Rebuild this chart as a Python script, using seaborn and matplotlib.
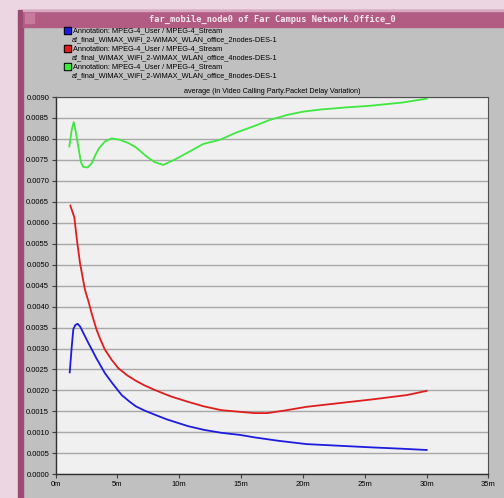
import matplotlib
matplotlib.use("Agg")
import matplotlib.pyplot as plt
from matplotlib.patches import Rectangle
import numpy as np
import seaborn as sns

# time (minutes) and packet delay variation (seconds)
t_2nodes = [1.15, 1.3, 1.44, 1.6, 1.79, 2.0, 2.2, 2.66, 3.0, 3.3, 3.65, 4.0, 4.6, 5.35, 6.0, 6.5,
            7.2, 8.04, 9.0, 10.7, 12.0, 13.4, 14.9, 16.1, 18.0, 20.3, 23.0, 25.7, 28.0, 30.0]
pdv_2nodes = [0.00243, 0.00300, 0.00346, 0.00356, 0.00359, 0.00352, 0.00340, 0.00313, 0.00294,
              0.00277, 0.00259, 0.00241, 0.00217, 0.00189, 0.00173, 0.00162, 0.00152, 0.00142,
              0.00131, 0.00115, 0.00106, 0.00099, 0.00094, 0.00088, 0.00080, 0.00072, 0.00068,
              0.00064, 0.00061, 0.00058]

t_4nodes = [1.2, 1.52, 1.75, 1.98, 2.38, 2.65, 2.92, 3.33, 3.65, 4.0, 4.54, 5.08, 5.8, 6.5, 7.2,
            8.04, 9.3, 10.7, 12.0, 13.4, 14.9, 16.1, 17.1, 18.5, 20.3, 23.0, 25.7, 28.4, 30.0]
pdv_4nodes = [0.00641, 0.00613, 0.00555, 0.00504, 0.00440, 0.00414, 0.00384, 0.00344, 0.00320,
              0.00297, 0.00273, 0.00253, 0.00236, 0.00223, 0.00212, 0.00201, 0.00186, 0.00173,
              0.00162, 0.00153, 0.00149, 0.00146, 0.00146, 0.00152, 0.00161, 0.00170, 0.00179,
              0.00189, 0.00199]

t_8nodes = [1.12, 1.3, 1.47, 1.65, 1.85, 2.05, 2.25, 2.6, 2.93, 3.2, 3.5, 4.0, 4.54, 5.2, 5.9,
            6.5, 7.37, 8.0, 8.7, 9.6, 10.6, 11.95, 13.3, 14.6, 16.0, 17.3, 18.7, 20.0, 21.4,
            23.4, 25.4, 28.1, 30.0]
pdv_8nodes = [0.00782, 0.00820, 0.00840, 0.00815, 0.00780, 0.00745, 0.00733, 0.00732, 0.00742,
              0.00760, 0.00777, 0.00794, 0.00801, 0.00798, 0.00790, 0.00780, 0.00758, 0.00745,
              0.00738, 0.00750, 0.00766, 0.00788, 0.00798, 0.00815, 0.00830, 0.00845, 0.00857,
              0.00865, 0.00870, 0.00875, 0.00879, 0.00887, 0.00896]

annotation = "Annotation: MPEG-4_User / MPEG-4_Stream"
scenarios = ["af_final_WiMAX_WiFi_2-WiMAX_WLAN_office_2nodes-DES-1",
             "af_final_WiMAX_WiFi_2-WiMAX_WLAN_office_4nodes-DES-1",
             "af_final_WiMAX_WiFi_2-WiMAX_WLAN_office_8nodes-DES-1"]
colors = ["#1c1ce0", "#e01c1c", "#3ee83e"]

y_ticks = np.arange(0, 0.00901, 0.0005)
x_ticks = [0, 5, 10, 15, 20, 25, 30, 35]

W, H = 504, 498
fig = plt.figure(figsize=(W / 100, H / 100), dpi=100, facecolor="#c0c0c0")
plt.rcParams['font.family'] = ['Liberation Sans', 'DejaVu Sans']

def px_rect(x0, y0, w, h, color):
    # rectangle given in pixel units from the top-left corner
    fig.patches.append(Rectangle((x0 / W, 1 - (y0 + h) / H), w / W, h / H,
                                 transform=fig.transFigure, color=color, zorder=0))

# window frame
px_rect(0, 0, W, 10, "#ecd6e2")
px_rect(0, 0, 18, H, "#ecd6e2")
px_rect(18, 10, 5, H, "#9c4a72")
px_rect(23, 10, W - 23, 17, "#b25c84")
px_rect(23, 10, W - 23, 1.5, "#d8a8c0")
px_rect(25, 13, 9, 10, "#c87a9c")
fig.text(272 / W, 1 - 19 / H, "far_mobile_node0 of Far Campus Network.Office_0",
         ha="center", va="center", fontsize=6.2, fontweight="bold",
         family="DejaVu Sans Mono", color="#f4eaf0")

# legend block
for i, c in enumerate(colors):
    yc = 31 + i * 18
    px_rect(64, yc - 3.5, 7, 7, "black")
    px_rect(65, yc - 2.5, 5, 5, c)
    fig.text(73 / W, 1 - yc / H, annotation, ha="left", va="center", fontsize=5.3)
    fig.text(72 / W, 1 - (yc + 9) / H, scenarios[i], ha="left", va="center", fontsize=5.3)

fig.text(272 / W, 1 - 91 / H, "average (in Video Calling Party.Packet Delay Variation)",
         ha="center", va="center", fontsize=5.2)

ax = fig.add_axes([55.5 / W, (H - 474.3) / H, 433 / W, (474.3 - 97) / H])
ax.set_facecolor("#f0f0f0")

for t, v, c in [(t_2nodes, pdv_2nodes, colors[0]),
                (t_4nodes, pdv_4nodes, colors[1]),
                (t_8nodes, pdv_8nodes, colors[2])]:
    sns.lineplot(x=t, y=v, ax=ax, color=c, linewidth=1.3, estimator=None, sort=False)

ax.set_xlim(0, 35)
ax.set_ylim(0, 0.009)
ax.set_yticks(y_ticks)
ax.set_yticklabels([f"{v:.4f}" for v in y_ticks])
ax.set_xticks(x_ticks)
ax.set_xticklabels([f"{v}m" for v in x_ticks])
ax.yaxis.grid(True, color="#a8a8a8", linewidth=1.0)
ax.set_axisbelow(True)
ax.tick_params(axis="both", labelsize=5.5, length=3, width=0.8, pad=1.5, color="#404040")
ax.set_xlabel("")
ax.set_ylabel("")
for side in ["left", "bottom"]:
    ax.spines[side].set_color("#303030")
    ax.spines[side].set_linewidth(1.0)
for side in ["top", "right"]:
    ax.spines[side].set_color("#505050")
    ax.spines[side].set_linewidth(0.8)

fig.savefig("out.png", dpi=100, facecolor=fig.get_facecolor())
